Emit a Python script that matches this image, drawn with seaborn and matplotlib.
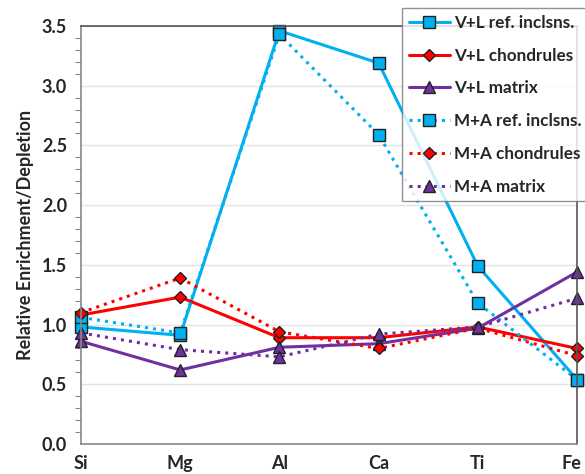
import pandas as pd
import matplotlib
matplotlib.use('Agg')
import matplotlib.pyplot as plt
import matplotlib.transforms as mtransforms
import seaborn as sns

elements = ['Si', 'Mg', 'Al', 'Ca', 'Ti', 'Fe']

vl_ref = [0.98, 0.91, 3.46, 3.19, 1.49, 0.54]
vl_chond = [1.08, 1.23, 0.89, 0.89, 0.98, 0.80]
vl_matrix = [0.86, 0.62, 0.81, 0.84, 0.97, 1.44]
ma_ref = [1.06, 0.93, 3.43, 2.59, 1.18, 0.54]
ma_chond = [1.10, 1.39, 0.94, 0.80, 0.97, 0.74]
ma_matrix = [0.93, 0.79, 0.73, 0.92, 0.98, 1.22]

series = [
    ('V+L ref. inclsns.', vl_ref, '#00B0F0', 's', '-'),
    ('V+L chondrules', vl_chond, '#FF0000', 'D', '-'),
    ('V+L matrix', vl_matrix, '#7030A0', '^', '-'),
    ('M+A ref. inclsns.', ma_ref, '#00B0F0', 's', ':'),
    ('M+A chondrules', ma_chond, '#FF0000', 'D', ':'),
    ('M+A matrix', ma_matrix, '#7030A0', '^', ':'),
]

sns.set_style('white')
plt.rcParams['font.family'] = ['Lato', 'DejaVu Sans']
plt.rcParams['font.weight'] = 'bold'

fig = plt.figure(figsize=(5.85, 4.74), dpi=100)
ax = fig.add_axes([81 / 585, 1 - 444 / 474, 496 / 585, 418 / 474])

sizes = {'s': 8.5, 'D': 6.5, '^': 8}
for label, vals, color, marker, ls in series:
    df = pd.DataFrame({'element': elements, 'value': vals})
    sns.lineplot(
        data=df, x='element', y='value', ax=ax, color=color,
        linestyle=ls, linewidth=2.2, marker=marker, markersize=sizes[marker],
        markeredgecolor='#222222', markeredgewidth=1.0, label=label,
        clip_on=False, sort=False
    )

ax.set_xlim(0, 5)
ax.set_ylim(0, 3.5)
ax.set_yticks([0, 0.5, 1.0, 1.5, 2.0, 2.5, 3.0, 3.5])
ax.set_yticklabels(['{:.1f}'.format(v) for v in ax.get_yticks()])
ax.set_yticks([i / 10 for i in range(36)], minor=True)
ax.yaxis.grid(True, color='#e4e4e4', linewidth=1)
ax.set_axisbelow(True)
ax.tick_params(axis='y', which='major', direction='out', length=7, width=1,
               color='#888888', labelsize=13, pad=3)
ax.tick_params(axis='y', which='minor', direction='out', length=4, width=0.8,
               color='#888888', left=True)
ax.tick_params(axis='x', direction='out', length=4, width=0.8,
               color='#bbbbbb', labelsize=13, pad=4)
for lab in ax.get_xticklabels() + ax.get_yticklabels():
    lab.set_fontweight('bold')

# nudge the last x label a little so it stays inside the figure
fe_lab = ax.get_xticklabels()[-1]
fe_lab.set_transform(fe_lab.get_transform() + mtransforms.ScaledTranslation(
    -4 / 72, 0, fig.dpi_scale_trans))

ax.set_xlabel('')
ax.set_ylabel('Relative Enrichment/Depletion', fontsize=13, fontweight='bold',
              labelpad=6)

for side in ['left', 'bottom']:
    ax.spines[side].set_color('#888888')
    ax.spines[side].set_linewidth(1.2)
for side in ['top', 'right']:
    ax.spines[side].set_color('#555555')
    ax.spines[side].set_linewidth(1.2)

handles, labels = ax.get_legend_handles_labels()
ax.get_legend().remove()
leg = fig.legend(
    handles, labels, loc='upper left',
    bbox_to_anchor=(402 / 585, 1 - 8 / 474),
    fontsize=12.3, frameon=True, fancybox=False, edgecolor='#777777',
    handlelength=2.4, handletextpad=0.25, labelspacing=0.98,
    borderpad=0.4, borderaxespad=0
)
leg.get_frame().set_linewidth(1.0)
for t in leg.get_texts():
    t.set_fontweight('bold')

plt.savefig('out.png', dpi=100)
